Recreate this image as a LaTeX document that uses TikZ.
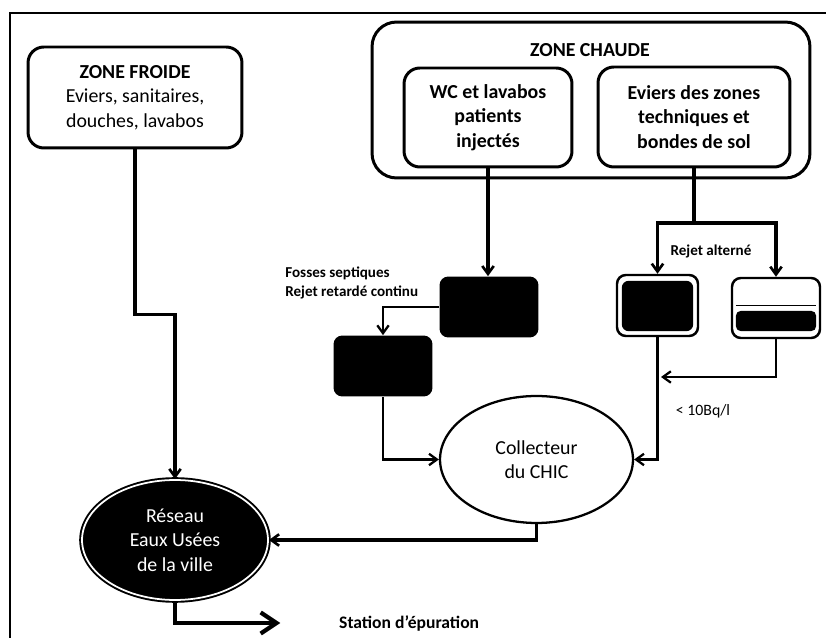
\documentclass[tikz,border=0pt]{standalone}
\usepackage{fontspec}
\setmainfont{Carlito}
\usetikzlibrary{arrows.meta, calc, positioning, shapes.geometric}

\begin{document}
\begin{tikzpicture}[
  x=0.02cm, y=-0.02cm,
  every node/.style={font=\fontsize{11.3}{14}\selectfont, text=black},
  zone/.style={draw, line width=1.7pt, rounded corners=9pt, align=center, inner sep=0pt},
  fosse/.style={fill=black, rounded corners=5pt, inner sep=0pt,
    minimum width=1.98cm, minimum height=1.22cm},
  tank/.style={draw, line width=1.4pt, fill=white, rounded corners=5pt, inner sep=0pt},
  pipe/.style={line width=1.9pt, -{Straight Barb[length=4.5pt, width=6.5pt, line width=1.5pt]}},
  thinpipe/.style={line width=1.2pt, -{Straight Barb[length=4.5pt, width=6.5pt, line width=1.3pt]}},
  bigpipe/.style={line width=2.6pt, -{Straight Barb[length=9pt, width=12pt, line width=2.4pt]}},
  tag/.style={font=\bfseries\fontsize{8.6}{11.3}\selectfont, align=left, inner sep=0pt}
]
\useasboundingbox (0,0) rectangle (826,638);

% frame
\draw[line width=1.3pt] (10,638) -- (10,13) -- (826,13);

% cold zone
\node[zone, minimum width=4.28cm, minimum height=2.02cm] (froide) at (135,97.5)
  {\textbf{ZONE FROIDE}\\Eviers, sanitaires,\\douches, lavabos};

% hot zone with its two sources
\node[zone, rounded corners=14pt, minimum width=8.76cm, minimum height=3.12cm] (chaude) at (591,100) {};
\node[font=\bfseries\fontsize{11.3}{14}\selectfont] (chaude-title) at (590,50) {ZONE CHAUDE};
\node[zone, font=\bfseries\fontsize{11.3}{14}\selectfont,
  minimum width=3.36cm, minimum height=1.98cm] (wc) at (488,117.5)
  {WC et lavabos\\patients\\injectés};
\node[zone, font=\bfseries\fontsize{11.3}{14}\selectfont,
  minimum width=3.84cm, minimum height=2.0cm] (eviers) at (694,117)
  {Eviers des zones\\techniques et\\bondes de sol};

% septic tanks
\node[fosse] (fosse1) at (489,307) {};
\node[fosse] (fosse2) at (383,366) {};
\node[tag, anchor=west] (fosse-tag) at (285,283) {Fosses septiques\\Rejet retardé continu};

% alternating tanks
\node[tank, minimum width=1.62cm, minimum height=1.22cm] (tank1) at (657.5,305.5) {};
\node[tank, minimum width=1.76cm, minimum height=1.2cm] (tank2) at (776,308) {};
\fill[rounded corners=4pt] ([shift={(6,-6)}]tank1.south west) rectangle ([shift={(-6,7)}]tank1.north east);
\fill[rounded corners=3pt] ([shift={(5,-8)}]tank2.south west) rectangle ([shift={(-5,34)}]tank2.north east);
\draw[line width=0.8pt] ([shift={(5,29)}]tank2.north west) -- ([shift={(-5,29)}]tank2.north east);
\node[tag] (alterne) at (711,251) {Rejet alterné};

% collectors
\node[ellipse, draw, line width=1.3pt, align=center, inner sep=0pt,
  minimum width=3.86cm, minimum height=2.54cm] (coll) at (536.5,459.5)
  {Collecteur\\du CHIC};
\node[ellipse, draw=black, double=white, double distance=1pt, line width=1.1pt,
  fill=black, text=white, align=center, inner sep=0pt,
  minimum width=3.72cm, minimum height=2.4cm] (reseau) at (175,540)
  {Réseau\\Eaux Usées\\de la ville};
\node[font=\fontsize{9}{11}\selectfont] (seuil) at (703,411) {< 10Bq/l};
\node[font=\bfseries\fontsize{10}{12}\selectfont, anchor=west] (station) at (333,623)
  {Station d’épuration};

% flows
\draw[pipe] (froide.south) -- ++(0,165) -| (reseau.north);
\draw[pipe] (wc.south) -- (wc.south |- fosse1.north);
\draw[thinpipe] (fosse1.west) -| (fosse2.north);
\draw[thinpipe] (fosse2.south) |- (coll.west);

\coordinate (ev-knee) at (694,223);
\draw[line width=1.9pt] (eviers.south) -- (ev-knee);
\draw[pipe] (ev-knee) -| (tank1.north);
\draw[pipe] (ev-knee) -| (tank2.north);
\coordinate (merge) at (tank1.south |- 0,377);
\draw[thinpipe] (tank1.south) |- (coll.east);
\draw[thinpipe] (tank2.south) |- ([xshift=2]merge);

\draw[pipe] (coll.south) |- (reseau.east);
\draw[bigpipe] (reseau.south) |- ([xshift=-30]station.west);

\end{tikzpicture}
\end{document}
